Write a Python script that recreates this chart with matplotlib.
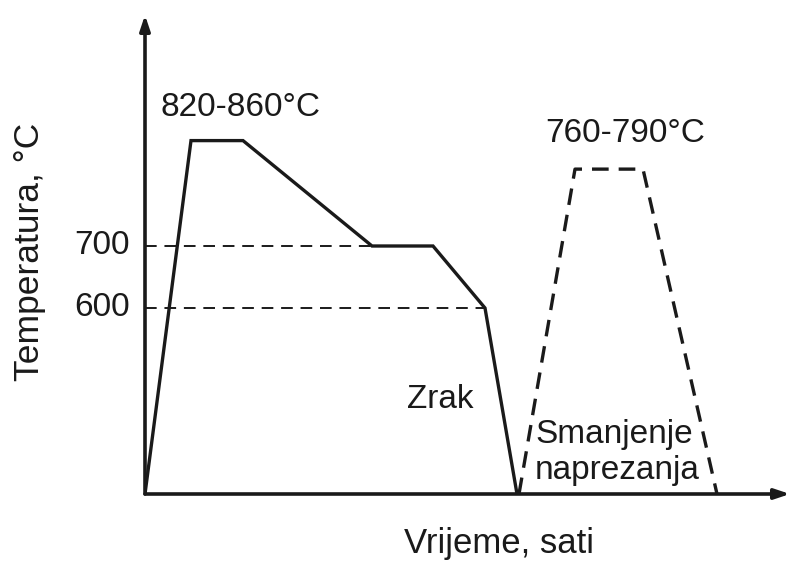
import matplotlib
matplotlib.use('Agg')
import matplotlib.pyplot as plt

# heat treatment schedule (schematic), time in arbitrary units
t_main = [0, 4.6, 9.8, 22.7, 28.8, 34.0, 37.2]
T_main = [300, 870, 870, 700, 700, 600, 300]
t_relief = [37.4, 43.0, 49.8, 57.2]
T_relief = [300, 824, 824, 300]
ref_temps = [700, 600]
ref_ends = [22.7, 34.0]

plt.rcParams['font.family'] = ['Liberation Sans', 'DejaVu Sans']

fig = plt.figure(figsize=(7.94, 5.61), dpi=100)
ax = fig.add_axes([145/794, (561-494)/561, (790-145)/794, (494-15)/561])
ax.set_xlim(0, 64.5)
ax.set_ylim(300, 300 + (494-15)/0.62)
for s in ax.spines.values():
    s.set_visible(False)
ax.set_xticks([])
ax.set_yticks([])

# axes as arrows
arrow = dict(arrowstyle='-|>,head_length=0.9,head_width=0.3', lw=2.6, color='#1a1a1a',
             shrinkA=0, shrinkB=0)
ax.annotate('', xy=(1, 0), xytext=(0, 0), xycoords='axes fraction', arrowprops=arrow)
ax.annotate('', xy=(0, 1), xytext=(0, 0), xycoords='axes fraction', arrowprops=arrow)

for T, te in zip(ref_temps, ref_ends):
    ax.plot([0, te], [T, T], color='#1a1a1a', lw=1.4, ls=(0, (6, 4)))
    ax.text(-1.5, T, str(T), ha='right', va='center', fontsize=24, color='#1a1a1a')

ax.plot(t_main, T_main, color='#1a1a1a', lw=2.4, solid_joinstyle='miter')
ax.plot(t_relief, T_relief, color='#1a1a1a', lw=2.4, ls=(0, (5, 3)))

ax.text(1.5, 924, '820-860°C', fontsize=24, color='#1a1a1a', va='center')
ax.text(40.0, 881, '760-790°C', fontsize=24, color='#1a1a1a', va='center')
ax.text(26.2, 453, 'Zrak', fontsize=24, color='#1a1a1a', va='center')
ax.text(39.0, 396, 'Smanjenje', fontsize=24, color='#1a1a1a', va='center')
ax.text(39.0, 338, 'naprezanja', fontsize=24, color='#1a1a1a', va='center')

fig.text(499/794, 1-543/561, 'Vrijeme, sati', fontsize=25, color='#1a1a1a',
         ha='center', va='center')
fig.text(30/794, 1-252/561, 'Temperatura, °C', fontsize=25.5, color='#1a1a1a',
         ha='center', va='center', rotation=90)

fig.savefig('out.png', dpi=100)
